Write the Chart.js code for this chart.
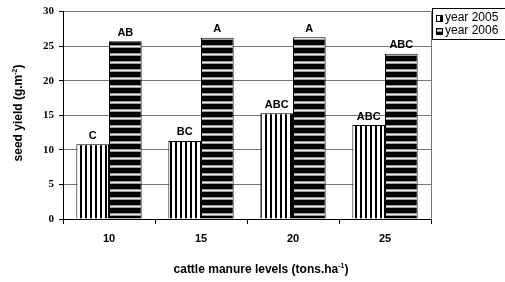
<!DOCTYPE html>
<html>
<head>
<meta charset="utf-8">
<script src="https://cdn.jsdelivr.net/npm/chart.js"></script>
<style>
  html, body { margin: 0; padding: 0; background: #fff; }
  #wrap { width: 505px; height: 282px; }
</style>
</head>
<body>
<div id="wrap"><canvas id="graph" width="505" height="282"></canvas></div>
<script>
// values
const levels = ['10', '15', '20', '25'];
const seriesNames = ['year 2005', 'year 2006'];
const yield2005 = [10.8, 11.3, 15.3, 13.6];
const yield2006 = [25.7, 26.2, 26.3, 23.9];
const letters2005 = ['C', 'BC', 'ABC', 'ABC'];
const letters2006 = ['AB', 'A', 'A', 'ABC'];
const yTicks = [0, 5, 10, 15, 20, 25, 30];

const canvas = document.getElementById('graph');
const ctx = canvas.getContext('2d');

// striped fills
function vStripes() {
  const c = document.createElement('canvas');
  c.width = 5; c.height = 5;
  const g = c.getContext('2d');
  g.fillStyle = '#fff'; g.fillRect(0, 0, 5, 5);
  g.fillStyle = '#000'; g.fillRect(0, 0, 2, 5);
  return ctx.createPattern(c, 'repeat');
}
function hStripes() {
  const c = document.createElement('canvas');
  c.width = 8; c.height = 8;
  const g = c.getContext('2d');
  g.fillStyle = '#000'; g.fillRect(0, 0, 8, 8);
  g.fillStyle = '#999'; g.fillRect(0, 5, 8, 1);
  g.fillStyle = '#eee'; g.fillRect(0, 6, 8, 1);
  g.fillStyle = '#999'; g.fillRect(0, 7, 8, 1);
  return ctx.createPattern(c, 'repeat');
}
const fills = [vStripes(), hStripes()];
const letters = [letters2005, letters2006];

// text with a superscript part
function supText(c, x, y, before, sup, after, size) {
  c.font = 'bold ' + size + 'px "Liberation Sans", Arial';
  const w1 = c.measureText(before).width;
  c.font = 'bold ' + Math.round(size * 0.6) + 'px "Liberation Sans", Arial';
  const w2 = c.measureText(sup).width;
  c.font = 'bold ' + size + 'px "Liberation Sans", Arial';
  const w3 = c.measureText(after).width;
  let sx = x - (w1 + w2 + w3) / 2;
  c.textAlign = 'left';
  c.textBaseline = 'middle';
  c.fillText(before, sx, y);
  c.font = 'bold ' + Math.round(size * 0.6) + 'px "Liberation Sans", Arial';
  c.fillText(sup, sx + w1, y - size * 0.35);
  c.font = 'bold ' + size + 'px "Liberation Sans", Arial';
  c.fillText(after, sx + w1 + w2, y);
}

const extras = {
  id: 'extras',
  beforeDatasetsDraw(chart) {
    const a = chart.chartArea;
    const c = chart.ctx;
    c.save();
    c.strokeStyle = '#777';
    c.lineWidth = 1;
    c.beginPath();
    c.moveTo(a.right + 0.5, a.top);
    c.lineTo(a.right + 0.5, a.bottom);
    c.stroke();
    c.restore();
  },
  afterDatasetsDraw(chart) {
    const c = chart.ctx;
    c.save();
    c.fillStyle = '#000';
    c.font = 'bold 11px "Liberation Sans", Arial';
    c.textAlign = 'center';
    c.textBaseline = 'bottom';
    chart.data.datasets.forEach((ds, i) => {
      chart.getDatasetMeta(i).data.forEach((bar, j) => {
        c.fillText(letters[i][j], bar.x, bar.y - 3);
      });
    });
    c.restore();
  },
  afterDraw(chart) {
    const c = chart.ctx;
    c.save();
    c.fillStyle = '#000';
    // axis titles
    supText(c, 261, 270, 'cattle manure levels (tons.ha', '-1', ')', 12);
    c.translate(19, 113);
    c.rotate(-Math.PI / 2);
    supText(c, 0, 0, 'seed yield (g.m', '-2', ')', 12);
    c.restore();

    // legend box
    c.save();
    c.strokeStyle = '#000';
    c.lineWidth = 1;
    c.fillStyle = '#fff';
    c.fillRect(432.5, 8.5, 80, 31);
    c.strokeRect(432.5, 8.5, 80, 31);
    c.font = '12px "Liberation Sans", Arial';
    c.textBaseline = 'middle';
    c.textAlign = 'left';
    seriesNames.forEach((name, i) => {
      const y = 18 + i * 13;
      c.fillStyle = fills[i];
      c.fillRect(436, y - 3, 7, 7);
      c.strokeRect(436.5, y - 2.5, 6, 6);
      c.fillStyle = '#000';
      c.fillText(name, 445, y);
    });
    c.restore();
  }
};

new Chart(ctx, {
  type: 'bar',
  data: {
    labels: levels,
    datasets: [{
      label: seriesNames[0],
      data: yield2005,
      backgroundColor: fills[0],
      borderColor: '#000',
      borderWidth: 1,
      categoryPercentage: 0.71,
      barPercentage: 1
    }, {
      label: seriesNames[1],
      data: yield2006,
      backgroundColor: fills[1],
      borderColor: '#000',
      borderWidth: 1,
      categoryPercentage: 0.71,
      barPercentage: 1
    }]
  },
  options: {
    responsive: false,
    animation: false,
    layout: { padding: { top: 11, right: 74, left: 0, bottom: 0 } },
    plugins: {
      legend: { display: false },
      tooltip: { enabled: false }
    },
    scales: {
      x: {
        afterFit: s => { s.height = 63; },
        grid: {
          offset: true,
          drawOnChartArea: false,
          color: '#000',
          tickLength: 5
        },
        border: { color: '#000' },
        ticks: {
          color: '#000',
          padding: 8,
          font: { family: '"Liberation Sans", Arial', size: 11, weight: 'bold' }
        }
      },
      y: {
        min: 0,
        max: 30,
        afterFit: s => { s.width = 63; },
        afterBuildTicks: s => { s.ticks = yTicks.map(v => ({ value: v })); },
        grid: {
          color: '#777',
          tickColor: '#000',
          tickLength: 4
        },
        border: { color: '#000' },
        ticks: {
          color: '#000',
          padding: 5,
          font: { family: '"Liberation Serif", "Times New Roman"', size: 11, weight: 'bold' }
        }
      }
    }
  },
  plugins: [extras]
});
</script>
</body>
</html>
